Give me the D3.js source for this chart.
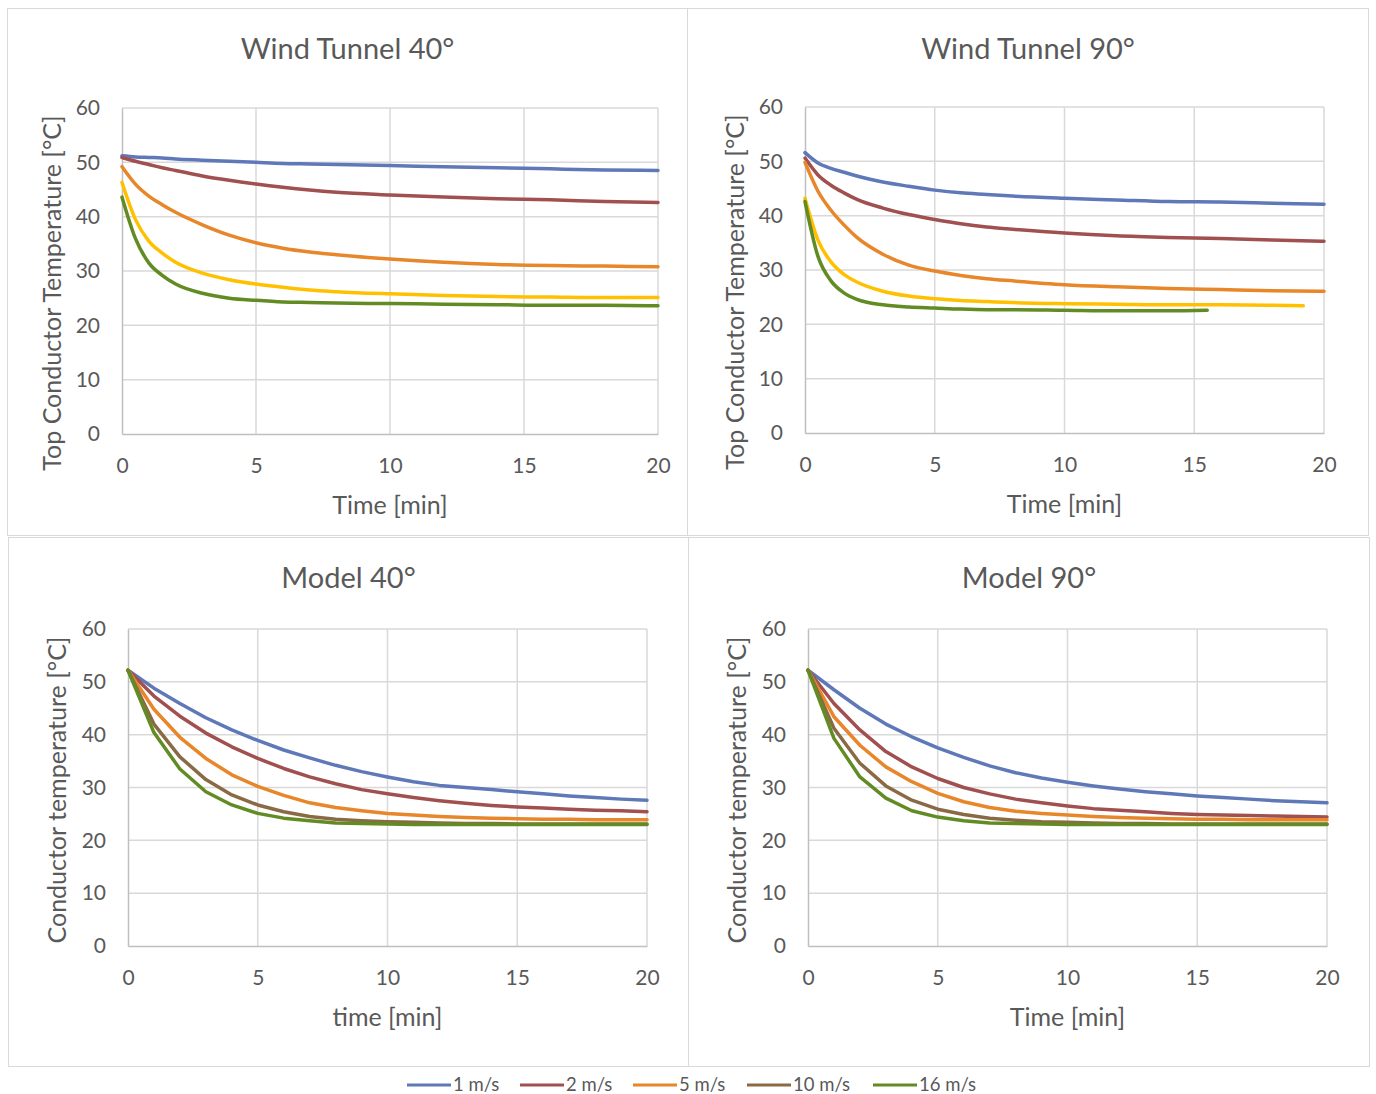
<!DOCTYPE html>
<html>
<head>
<meta charset="utf-8">
<script src="https://cdn.jsdelivr.net/npm/d3@7"></script>
<style>
  html, body { margin: 0; padding: 0; background: #ffffff; }
  svg { display: block; }
  text { font-family: Lato, "Open Sans", sans-serif; fill: #595959; }
</style>
</head>
<body>
<svg id="chart" width="1376" height="1094"></svg>
<script>
// ---------- DATA ----------
const seriesNames = ["1 m/s", "2 m/s", "5 m/s", "10 m/s", "16 m/s"];
const xTicks = [0, 5, 10, 15, 20];
const yTicks = [0, 10, 20, 30, 40, 50, 60];

// Wind tunnel 40°
const timeWT40 = [0, 0.5, 1, 1.5, 2, 3, 4, 5, 6, 7, 8, 10, 12, 14, 16, 18, 20];
const wt40_1  = [51.2, 51.0, 50.9, 50.8, 50.6, 50.4, 50.2, 50.0, 49.8, 49.7, 49.6, 49.4, 49.2, 49.0, 48.8, 48.6, 48.5];
const wt40_2  = [50.9, 50.2, 49.6, 49.0, 48.5, 47.5, 46.7, 46.0, 45.4, 44.9, 44.5, 44.0, 43.6, 43.3, 43.1, 42.8, 42.6];
const wt40_5  = [49.2, 46.0, 43.8, 42.2, 40.8, 38.5, 36.6, 35.2, 34.2, 33.5, 33.0, 32.2, 31.6, 31.2, 31.0, 30.9, 30.8];
const wt40_10 = [46.3, 39.5, 35.5, 33.3, 31.6, 29.6, 28.4, 27.6, 27.0, 26.5, 26.2, 25.8, 25.5, 25.3, 25.2, 25.1, 25.1];
const wt40_16 = [43.6, 36.0, 31.5, 29.2, 27.6, 25.9, 25.0, 24.6, 24.3, 24.2, 24.1, 24.0, 23.9, 23.8, 23.7, 23.7, 23.6];

// Wind tunnel 90°
const timeWT90 = [0, 0.5, 1, 1.5, 2, 3, 4, 5, 6, 7, 8, 10, 12, 14, 16, 18, 20];
const timeWT90_10 = [0, 0.5, 1, 1.5, 2, 3, 4, 5, 6, 7, 8, 10, 12, 14, 16, 18, 19.2];
const timeWT90_16 = [0, 0.5, 1, 1.5, 2, 3, 4, 5, 6, 7, 8, 10, 12, 14, 15.5];
const wt90_1  = [51.6, 49.7, 48.7, 48.0, 47.3, 46.2, 45.4, 44.7, 44.2, 43.9, 43.6, 43.2, 42.9, 42.6, 42.5, 42.3, 42.1];
const wt90_2  = [50.6, 47.5, 45.6, 44.2, 43.0, 41.4, 40.2, 39.3, 38.5, 37.9, 37.5, 36.8, 36.3, 36.0, 35.8, 35.5, 35.3];
const wt90_5  = [49.8, 44.5, 41.0, 38.3, 36.0, 32.9, 30.9, 29.8, 29.0, 28.4, 28.0, 27.3, 26.9, 26.6, 26.4, 26.2, 26.1];
const wt90_10 = [43.2, 35.5, 31.5, 29.2, 27.8, 26.1, 25.2, 24.7, 24.4, 24.2, 24.0, 23.8, 23.7, 23.6, 23.6, 23.5, 23.4];
const wt90_16 = [42.6, 32.5, 28.0, 25.8, 24.6, 23.6, 23.2, 23.0, 22.8, 22.7, 22.7, 22.6, 22.5, 22.5, 22.6];

// Model (1-minute steps)
const timeModel = [0, 1, 2, 3, 4, 5, 6, 7, 8, 9, 10, 11, 12, 13, 14, 15, 16, 17, 18, 19, 20];
const m40_1  = [52.2, 48.8, 45.9, 43.2, 40.9, 38.9, 37.1, 35.6, 34.2, 33.0, 32.0, 31.1, 30.4, 30.0, 29.6, 29.2, 28.8, 28.4, 28.1, 27.8, 27.6];
const m40_2  = [52.2, 47.3, 43.5, 40.3, 37.7, 35.5, 33.6, 32.0, 30.7, 29.6, 28.8, 28.1, 27.5, 27.0, 26.6, 26.3, 26.1, 25.9, 25.7, 25.6, 25.4];
const m40_5  = [52.2, 44.8, 39.5, 35.5, 32.4, 30.2, 28.5, 27.1, 26.2, 25.6, 25.1, 24.8, 24.5, 24.3, 24.2, 24.1, 24.0, 24.0, 23.9, 23.9, 23.9];
const m40_10 = [52.2, 42.0, 35.8, 31.5, 28.6, 26.7, 25.4, 24.5, 24.0, 23.7, 23.5, 23.4, 23.3, 23.2, 23.2, 23.1, 23.1, 23.1, 23.1, 23.1, 23.1];
const m40_16 = [52.2, 40.4, 33.5, 29.2, 26.7, 25.1, 24.2, 23.7, 23.3, 23.2, 23.1, 23.0, 23.0, 23.0, 23.0, 23.0, 23.0, 23.0, 23.0, 23.0, 23.0];

const m90_1  = [52.2, 48.5, 45.0, 42.0, 39.6, 37.5, 35.7, 34.1, 32.8, 31.8, 31.0, 30.3, 29.7, 29.2, 28.8, 28.4, 28.1, 27.8, 27.5, 27.3, 27.1];
const m90_2  = [52.2, 45.9, 40.9, 36.8, 33.9, 31.7, 30.0, 28.8, 27.8, 27.1, 26.5, 26.0, 25.7, 25.4, 25.1, 24.9, 24.8, 24.7, 24.6, 24.5, 24.4];
const m90_5  = [52.2, 43.4, 38.0, 33.9, 31.1, 28.9, 27.3, 26.2, 25.5, 25.1, 24.8, 24.5, 24.3, 24.2, 24.1, 24.0, 24.0, 23.9, 23.9, 23.9, 23.9];
const m90_10 = [52.2, 41.2, 34.6, 30.3, 27.6, 25.9, 24.9, 24.2, 23.8, 23.5, 23.4, 23.3, 23.2, 23.2, 23.1, 23.1, 23.1, 23.1, 23.1, 23.1, 23.1];
const m90_16 = [52.2, 39.3, 32.0, 28.0, 25.6, 24.4, 23.7, 23.3, 23.2, 23.1, 23.0, 23.0, 23.0, 23.0, 23.0, 23.0, 23.0, 23.0, 23.0, 23.0, 23.0];

// ---------- STYLE ----------
const colModel = ["#5E78B8", "#A0504F", "#E8862A", "#8A6A44", "#628C23"];
const colWT    = ["#5E78B8", "#A0504F", "#E8862A", "#FFC000", "#628C23"];

const panels = [
  { title: "Wind Tunnel 40°", ylab: "Top Conductor Temperature [°C]", xlab: "Time [min]",
    box: [7.5, 8.5, 680, 527], plot: [122, 658, 108, 434], ylabX: 53, ylabY: 293, curve: d3.curveMonotoneX,
    series: [[timeWT40, wt40_1], [timeWT40, wt40_2], [timeWT40, wt40_5], [timeWT40, wt40_10], [timeWT40, wt40_16]], colors: colWT },
  { title: "Wind Tunnel 90°", ylab: "Top Conductor Temperature [°C]", xlab: "Time [min]",
    box: [687.5, 8.5, 681, 527], plot: [805, 1324, 107, 433], ylabX: 736, ylabY: 292, curve: d3.curveMonotoneX,
    series: [[timeWT90, wt90_1], [timeWT90, wt90_2], [timeWT90, wt90_5], [timeWT90_10, wt90_10], [timeWT90_16, wt90_16]], colors: colWT },
  { title: "Model 40°", ylab: "Conductor temperature [°C]", xlab: "time [min]",
    box: [8.5, 537.5, 680, 529], plot: [128, 647, 629, 946], ylabX: 58, ylabY: 790, curve: d3.curveLinear,
    series: [[timeModel, m40_1], [timeModel, m40_2], [timeModel, m40_5], [timeModel, m40_10], [timeModel, m40_16]], colors: colModel },
  { title: "Model 90°", ylab: "Conductor temperature [°C]", xlab: "Time [min]",
    box: [688.5, 537.5, 681, 529], plot: [808, 1327, 629, 946], ylabX: 738, ylabY: 790, curve: d3.curveLinear,
    series: [[timeModel, m90_1], [timeModel, m90_2], [timeModel, m90_5], [timeModel, m90_10], [timeModel, m90_16]], colors: colModel }
];

const svg = d3.select("#chart");
svg.append("rect").attr("width", 1376).attr("height", 1094).attr("fill", "#fff");

panels.forEach(p => {
  const g = svg.append("g");
  const [bx, by, bw, bh] = p.box;
  g.append("rect").attr("x", bx).attr("y", by).attr("width", bw).attr("height", bh)
    .attr("fill", "#fff").attr("stroke", "#d9d9d9").attr("stroke-width", 1);

  const [x0, x1, yTop, yBot] = p.plot;
  const x = d3.scaleLinear().domain([0, 20]).range([x0, x1]);
  const y = d3.scaleLinear().domain([0, 60]).range([yBot, yTop]);

  // gridlines
  g.append("g").selectAll("line.h").data(yTicks.filter(v => v > 0)).join("line")
    .attr("x1", x0).attr("x2", x1).attr("y1", d => y(d)).attr("y2", d => y(d))
    .attr("stroke", "#d9d9d9").attr("stroke-width", 1.5);
  g.append("g").selectAll("line.v").data(xTicks.filter(v => v > 0)).join("line")
    .attr("y1", yTop).attr("y2", yBot).attr("x1", d => x(d)).attr("x2", d => x(d))
    .attr("stroke", "#d9d9d9").attr("stroke-width", 1.5);

  // axes
  const yAxis = d3.axisLeft(y).tickValues(yTicks).tickSize(0).tickPadding(22);
  const xAxis = d3.axisBottom(x).tickValues(xTicks).tickSize(0).tickPadding(24);
  const ya = g.append("g").attr("transform", `translate(${x0},0)`).call(yAxis);
  const xa = g.append("g").attr("transform", `translate(0,${yBot})`).call(xAxis);
  [ya, xa].forEach(a => {
    a.select(".domain").attr("stroke", "#bfbfbf").attr("stroke-width", 1.5);
    a.selectAll("text").style("font-family", "Lato, sans-serif").style("font-size", "21px").attr("fill", "#595959");
  });

  // series
  const line = d3.line().curve(p.curve).x(d => x(d[0])).y(d => y(d[1]));
  p.series.forEach((s, i) => {
    const pts = s[0].map((t, k) => [t, s[1][k]]);
    g.append("path").datum(pts).attr("d", line).attr("fill", "none")
      .attr("stroke", p.colors[i]).attr("stroke-width", 3.5).attr("stroke-linejoin", "round").attr("stroke-linecap", "round");
  });

  // title
  g.append("text").attr("x", bx + bw / 2).attr("y", by + 50).attr("text-anchor", "middle")
    .style("font-size", "29px").text(p.title);
  // x label
  g.append("text").attr("x", (x0 + x1) / 2).attr("y", yBot + 80).attr("text-anchor", "middle")
    .style("font-size", "25px").text(p.xlab);
  // y label
  g.append("text").attr("transform", `translate(${p.ylabX + 8},${p.ylabY}) rotate(-90)`)
    .attr("text-anchor", "middle").style("font-size", "25px").text(p.ylab);
});

// legend
const legendX = [407, 520, 633, 747, 873];
const lg = svg.append("g");
seriesNames.forEach((n, i) => {
  lg.append("line").attr("x1", legendX[i]).attr("x2", legendX[i] + 44).attr("y1", 1085).attr("y2", 1085)
    .attr("stroke", colModel[i]).attr("stroke-width", 3);
  lg.append("text").attr("x", legendX[i] + 46).attr("y", 1091).style("font-size", "18.5px").text(n);
});
</script>
</body>
</html>
